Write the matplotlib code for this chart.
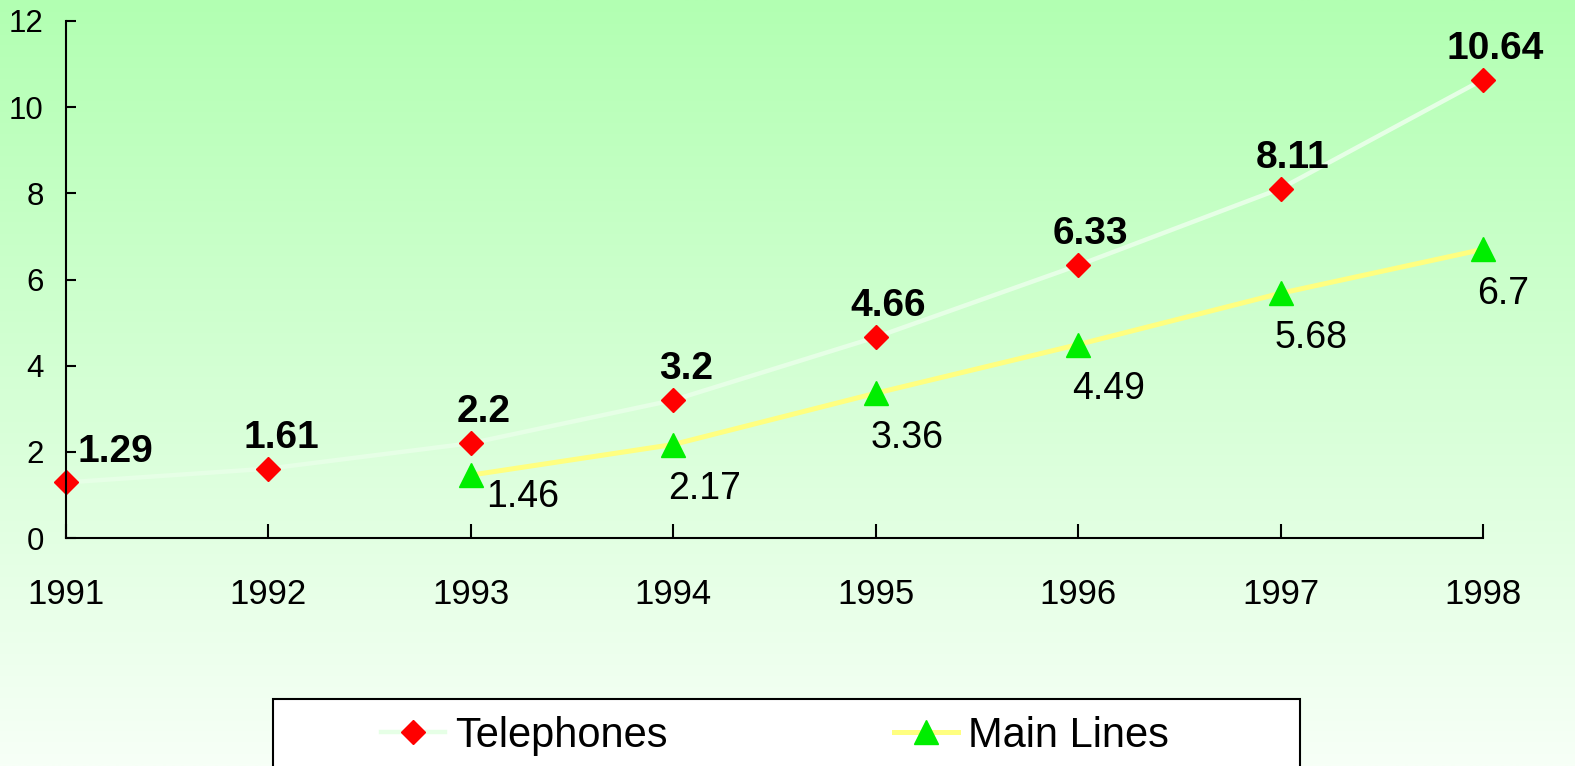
import numpy as np
import matplotlib
matplotlib.use("Agg")
import matplotlib.pyplot as plt
from matplotlib.patches import Rectangle

plt.rcParams["font.family"] = ["Liberation Sans", "DejaVu Sans"]

years = ["1991", "1992", "1993", "1994", "1995", "1996", "1997", "1998"]
telephones = [1.29, 1.61, 2.2, 3.2, 4.66, 6.33, 8.11, 10.64]
main_years = ["1993", "1994", "1995", "1996", "1997", "1998"]
main_lines = [1.46, 2.17, 3.36, 4.49, 5.68, 6.7]

W, H = 1575, 766
fig = plt.figure(figsize=(W / 100, H / 100), dpi=100)

# green vertical gradient over the whole figure
bg = fig.add_axes([0, 0, 1, 1], zorder=-10)
t = np.linspace(0, 1, 256)[:, None]
top = np.array([178, 255, 178]) / 255
bot = np.array([247, 255, 247]) / 255
grad = top * (1 - t[..., None]) + bot * t[..., None]
grad = np.repeat(grad, 2, axis=1)
bg.imshow(grad, aspect="auto", extent=[0, 1, 0, 1])
bg.set_axis_off()

ax = fig.add_axes([66 / W, (H - 538) / H, (1483 - 66) / W, (538 - 21) / H])
ax.patch.set_alpha(0)

x_tel = np.arange(len(years))
x_main = np.array([years.index(y) for y in main_years])

ax.plot(x_tel, telephones, color="#e6ffe6", lw=3.2, zorder=2, clip_on=False,
        marker="D", ms=12, mfc="red", mec="red", label="Telephones")
ax.plot(x_main, main_lines, color="#ffff80", lw=3.6, zorder=3, clip_on=False,
        marker="^", ms=17, mfc="#00ee00", mec="#00ee00", label="Main Lines")

for i, v in enumerate(telephones):
    dx = 8 if i == 0 else 9
    ax.annotate(f"{v:g}", (x_tel[i], v), xytext=(dx, 15), textcoords="offset points",
                ha="left" if i == 0 else "center", va="baseline",
                fontsize=28, fontweight="bold")
for i, v in enumerate(main_lines):
    dx, dy = (11, -3) if i == 0 else (-4, -19)
    ax.annotate(f"{v:g}", (x_main[i], v), xytext=(dx, dy), textcoords="offset points",
                ha="left", va="top", fontsize=27)

ax.set_xlim(0, len(years) - 1)
ax.set_ylim(0, 12)
ax.set_yticks(range(0, 13, 2))
ax.set_xticks(x_tel)
ax.set_xticklabels(years)
for s in ["top", "right"]:
    ax.spines[s].set_visible(False)
for s in ["left", "bottom"]:
    ax.spines[s].set_linewidth(1.5)
ax.tick_params(axis="y", direction="in", length=7, width=1.5, pad=16, labelsize=22.5)
ax.tick_params(axis="x", direction="in", length=10, width=1.5, pad=29, labelsize=25)

# legend box
fig.patches.append(Rectangle((273 / W, -0.05), (1300 - 273) / W, (H - 699) / H + 0.05,
                             transform=fig.transFigure, facecolor="white",
                             edgecolor="black", lw=1.5, zorder=5))
leg = fig.legend(loc="center", bbox_to_anchor=(775 / W, (H - 736) / H), ncol=2,
                 frameon=False, fontsize=30, handlelength=1.53, handletextpad=0.24,
                 columnspacing=5.44)
leg.set_zorder(6)

fig.savefig("out.png", dpi=100)
